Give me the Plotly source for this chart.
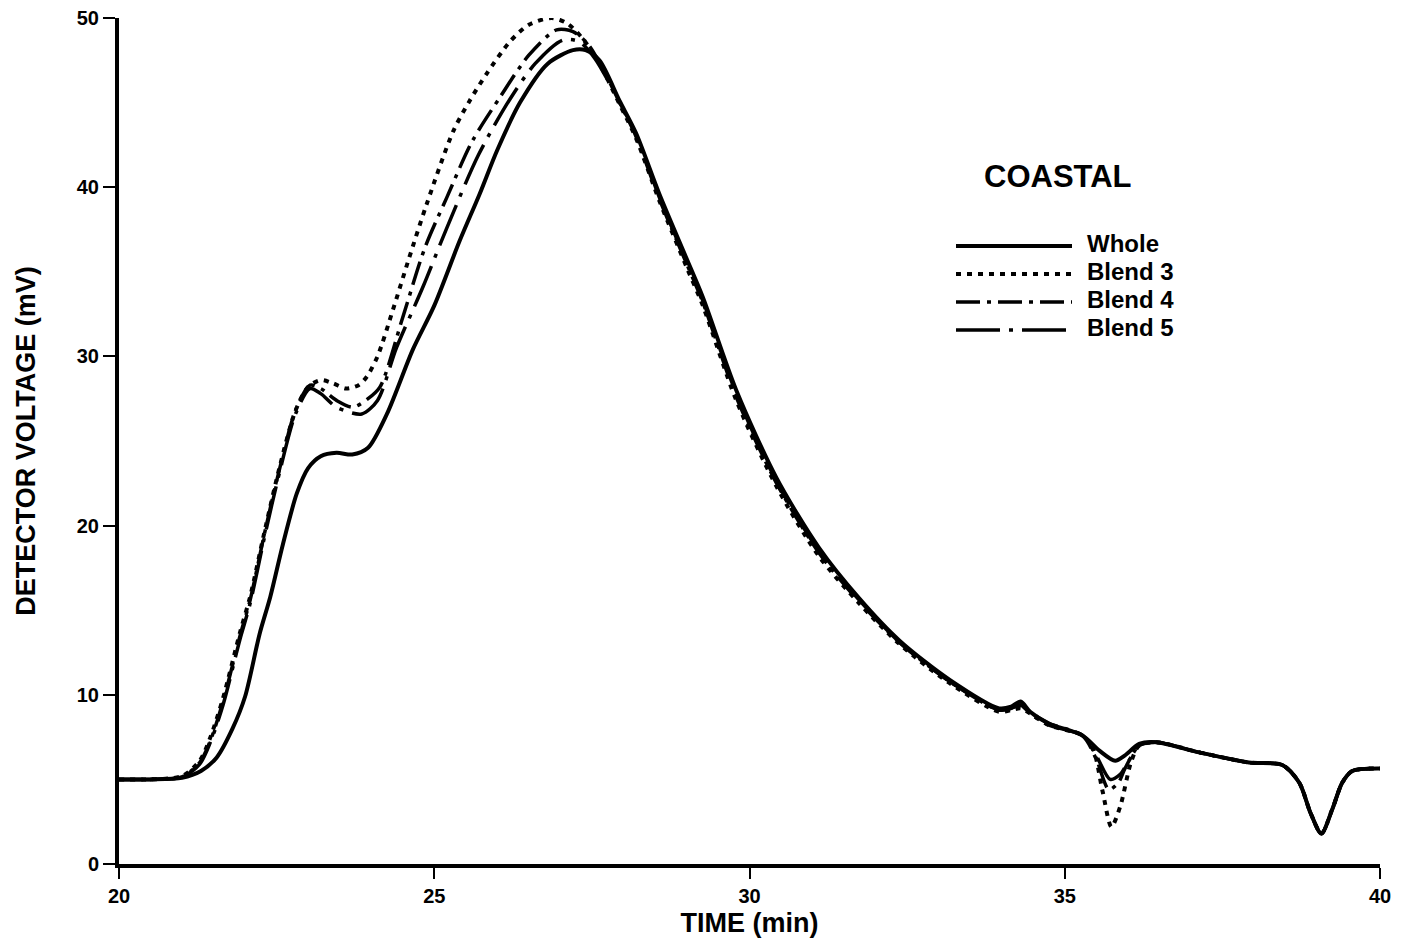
import plotly.graph_objects as go

# ---------------- data ----------------
WHOLE_T = [20.0, 20.5, 21.0, 21.3, 21.55, 21.8, 22.0, 22.23, 22.4, 22.6, 22.82, 23.0, 23.2, 23.45,
           23.7, 23.95, 24.25, 24.66, 25.0, 25.4, 25.72, 26.0, 26.36, 26.8, 27.2, 27.4, 27.62]
WHOLE_V = [5.0, 5.0, 5.1, 5.5, 6.3, 8.0, 9.9, 13.6, 15.8, 18.9, 21.9, 23.4, 24.1, 24.3,
           24.2, 24.6, 26.6, 30.4, 33.0, 36.8, 39.6, 42.2, 45.0, 47.3, 48.1, 48.1, 47.5]

B3_T = [20.0, 20.5, 21.0, 21.28, 21.45, 21.65, 21.92, 22.08, 22.3, 22.55, 22.8, 23.0, 23.2, 23.4,
        23.6, 23.8, 23.93, 24.1, 24.34, 24.6, 24.88, 25.3, 25.56, 25.83, 26.2, 26.5, 26.86, 27.1,
        27.35, 27.62]
B3_V = [5.0, 5.0, 5.2, 6.1, 7.5, 9.8, 13.7, 15.8, 19.5, 23.5, 26.8, 28.2, 28.6, 28.4,
        28.1, 28.3, 28.8, 30.0, 32.7, 35.8, 39.0, 43.3, 45.1, 46.7, 48.6, 49.6, 50.0, 49.7,
        48.8, 47.3]

B4_T = [20.0, 20.5, 21.0, 21.28, 21.45, 21.65, 21.92, 22.08, 22.3, 22.55, 22.8, 23.03, 23.2, 23.45,
        23.71, 23.95, 24.14, 24.5, 24.85, 25.2, 25.6, 26.04, 26.5, 26.94, 27.2, 27.45, 27.7]
B4_V = [5.0, 5.0, 5.15, 6.0, 7.3, 9.6, 13.5, 15.6, 19.4, 23.4, 26.8, 28.3, 28.1, 27.4,
        27.0, 27.5, 28.2, 32.3, 36.4, 39.4, 42.7, 45.3, 47.8, 49.3, 49.2, 48.4, 46.8]

B5_T = [20.0, 20.5, 21.0, 21.28, 21.45, 21.65, 21.92, 22.08, 22.3, 22.55, 22.8, 23.03, 23.2, 23.45,
        23.85, 24.1, 24.4, 24.82, 25.2, 25.7, 26.2, 26.6, 27.04, 27.3, 27.55]
B5_V = [5.0, 5.0, 5.15, 5.9, 7.2, 9.4, 13.3, 15.4, 19.2, 23.2, 26.6, 28.1, 27.8, 27.0,
        26.6, 27.4, 30.5, 34.1, 37.6, 41.9, 45.2, 47.3, 48.7, 48.6, 47.6]

# descending side (shared time points)
DESC_T = [27.94, 28.2, 28.57, 29.0, 29.26, 29.79, 30.43, 31.1, 31.74, 32.38, 33.17, 33.96,
          34.15, 34.3, 34.45, 34.75, 35.28]
WHOLE_DESC = [45.1, 43.2, 39.6, 35.8, 33.5, 28.0, 22.8, 18.7, 15.7, 13.2, 10.9, 9.2, 9.3, 9.6, 9.0, 8.3, 7.6]
B3_DESC = [44.9, 42.9, 39.2, 35.3, 33.0, 27.4, 22.3, 18.2, 15.4, 13.0, 10.7, 9.0, 9.1, 9.2, 8.9, 8.2, 7.6]
B4_DESC = [45.0, 43.0, 39.3, 35.5, 33.2, 27.6, 22.5, 18.4, 15.5, 13.1, 10.8, 9.1, 9.2, 9.4, 9.0, 8.3, 7.6]
B5_DESC = [45.0, 43.1, 39.4, 35.6, 33.3, 27.8, 22.6, 18.5, 15.6, 13.1, 10.8, 9.1, 9.2, 9.4, 8.9, 8.2, 7.6]

# first negative dip (~35.7 min)
WHOLE_DIP_T = [35.55, 35.8, 35.95, 36.18]
WHOLE_DIP_V = [6.7, 6.1, 6.4, 7.1]
B3_DIP_T = [35.45, 35.6, 35.74, 35.88, 36.05, 36.18]
B3_DIP_V = [6.8, 4.3, 2.2, 3.4, 6.0, 7.0]
B4_DIP_T = [35.5, 35.7, 35.85, 35.95, 36.18]
B4_DIP_V = [6.2, 4.4, 4.8, 5.6, 7.0]
B5_DIP_T = [35.5, 35.72, 35.88, 36.0, 36.18]
B5_DIP_V = [6.4, 5.0, 5.3, 6.0, 7.0]

# common tail incl. second dip (~39 min)
TAIL_T = [36.45, 37.13, 37.92, 38.45, 38.72, 38.9, 39.07, 39.24, 39.4, 39.56, 40.0]
TAIL_V = [7.2, 6.6, 6.0, 5.85, 4.8, 3.0, 1.8, 3.2, 4.8, 5.5, 5.65]

SERIES = ["Whole", "Blend 3", "Blend 4", "Blend 5"]
X_TICKS = [20, 25, 30, 35, 40]
Y_TICKS = [0, 10, 20, 30, 40, 50]

# ---------------- build ----------------
FONT = "Liberation Sans, Arial, sans-serif"
W, H = 1405, 951
OFF = 8  # default page body margin
# plot area in page pixels: x 119..1380, y 18..864
ML, MR, MT, MB = 119 - OFF, W + OFF - 1380, 18 - OFF, H + OFF - 864

styles = {
    "Whole": dict(dash="solid", width=4),
    "Blend 3": dict(dash="5px,6px", width=4),
    "Blend 4": dict(dash="24px,7px,4px,7px", width=3.5),
    "Blend 5": dict(dash="44px,9px,4px,9px", width=3.5),
}

data = {
    "Whole": (WHOLE_T + DESC_T + WHOLE_DIP_T + TAIL_T, WHOLE_V + WHOLE_DESC + WHOLE_DIP_V + TAIL_V),
    "Blend 3": (B3_T + DESC_T + B3_DIP_T + TAIL_T, B3_V + B3_DESC + B3_DIP_V + TAIL_V),
    "Blend 4": (B4_T + DESC_T + B4_DIP_T + TAIL_T, B4_V + B4_DESC + B4_DIP_V + TAIL_V),
    "Blend 5": (B5_T + DESC_T + B5_DIP_T + TAIL_T, B5_V + B5_DESC + B5_DIP_V + TAIL_V),
}

fig = go.Figure()
for name in SERIES:
    xs, ys = data[name]
    st = styles[name]
    fig.add_trace(go.Scatter(
        x=xs, y=ys, mode="lines", name=name, showlegend=False,
        line=dict(color="black", width=st["width"], dash=st["dash"], shape="spline", smoothing=0.8),
    ))

fig.update_layout(
    width=W, height=H,
    margin=dict(l=ML, r=MR, t=MT, b=MB),
    paper_bgcolor="white", plot_bgcolor="white",
    font=dict(family=FONT, color="black"),
)
fig.update_xaxes(
    range=[20, 40], tickvals=X_TICKS, ticktext=[str(v) for v in X_TICKS],
    automargin=False, ticklabeloverflow="allow",
    showgrid=False, zeroline=False, showline=True, linecolor="black", linewidth=4,
    ticks="outside", ticklen=11, tickwidth=2, tickcolor="black",
    tickfont=dict(size=20, weight="bold"),
    title=dict(text="TIME (min)", font=dict(size=27, weight="bold"), standoff=8),
)
fig.update_yaxes(
    range=[0, 50], tickvals=Y_TICKS, ticktext=[str(v) for v in Y_TICKS],
    automargin=False, ticklabeloverflow="allow",
    showgrid=False, zeroline=False, showline=True, linecolor="black", linewidth=4,
    ticks="outside", ticklen=12, tickwidth=2, tickcolor="black",
    tickfont=dict(size=20, weight="bold"),
    title=dict(text="DETECTOR VOLTAGE (mV)", font=dict(size=27, weight="bold"), standoff=34),
)

# ---- legend drawn as a key block (title + long line samples) ----
pw, ph = W - ML - MR, H - MT - MB
def px(x):
    return (x - OFF - ML) / pw
def py(y):
    return (H - MB - (y - OFF)) / ph

fig.add_annotation(x=px(1058), y=py(176), xref="paper", yref="paper", text="COASTAL",
                   showarrow=False, xanchor="center", yanchor="middle",
                   font=dict(size=31, weight="bold", family=FONT))
key_rows = [243, 271, 299, 327]
for name, yy in zip(SERIES, key_rows):
    st = styles[name]
    fig.add_shape(type="line", xref="paper", yref="paper",
                  x0=px(956), x1=px(1072), y0=py(yy + 3), y1=py(yy + 3),
                  line=dict(color="black", width=st["width"], dash=st["dash"]))
    fig.add_annotation(x=px(1085), y=py(yy), xref="paper", yref="paper", text=name,
                       showarrow=False, xanchor="left", yanchor="middle",
                       font=dict(size=24, weight="bold", family=FONT))

fig.write_html("out.html")
